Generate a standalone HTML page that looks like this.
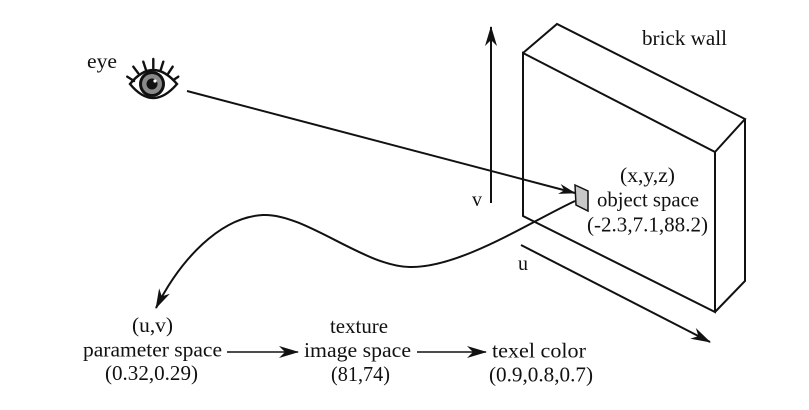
<!DOCTYPE html>
<html><head><meta charset="utf-8"><style>
html,body{margin:0;padding:0;background:#fff;}
svg{display:block;}
text{font-family:"Liberation Serif","Times New Roman",serif;font-size:21px;fill:#111;}
</style></head><body>
<svg width="809" height="410" viewBox="0 0 809 410" xmlns="http://www.w3.org/2000/svg">
<defs>
<marker id="ah" viewBox="0 0 20 12" refX="19" refY="6" markerWidth="20" markerHeight="12" markerUnits="userSpaceOnUse" orient="auto">
<path d="M0,0 L20,6 L0,12 L6,6 Z" fill="#111"/>
</marker>
<marker id="ahs" viewBox="0 0 20 12" refX="19" refY="6" markerWidth="17" markerHeight="11" markerUnits="userSpaceOnUse" orient="auto">
<path d="M0,0 L20,6 L0,12 L6,6 Z" fill="#111"/>
</marker>
</defs>

<!-- wall -->
<g fill="none" stroke="#111" stroke-width="2" stroke-linejoin="miter">
<path d="M523,53 L715,152 L715,312 L523,216 Z"/>
<path d="M523,53 L557,24 L745,119 L715,152"/>
<path d="M745,119 L745,281 L715,312"/>
</g>

<!-- v axis -->
<line x1="491" y1="203" x2="491" y2="27" stroke="#111" stroke-width="2" marker-end="url(#ah)"/>
<!-- u axis -->
<line x1="521" y1="245" x2="710" y2="342" stroke="#111" stroke-width="2" marker-end="url(#ah)"/>

<!-- eye line -->
<line x1="187" y1="91" x2="575" y2="193" stroke="#111" stroke-width="2" marker-end="url(#ahs)"/>

<!-- patch -->
<path d="M575,185 L588,191 L588,211 L576,205 Z" fill="#c8c8c8" stroke="#111" stroke-width="1.5"/>

<!-- curve -->
<path d="M575,201 C530,222 460,268 410,267 C365,267 305,213 263,215 C220,217 180,260 156,308" fill="none" stroke="#111" stroke-width="2" marker-end="url(#ah)"/>

<!-- bottom arrows -->
<line x1="227" y1="352" x2="298" y2="352" stroke="#111" stroke-width="1.6" marker-end="url(#ah)"/>
<line x1="417" y1="352" x2="486" y2="352" stroke="#111" stroke-width="1.6" marker-end="url(#ah)"/>

<!-- eye -->
<g stroke="#111" stroke-width="2.4" fill="none" stroke-linecap="round">
<path d="M130,84 Q153,56 177,84 Q153,112 130,84 Z" fill="#fff"/>
<line x1="127.3" y1="76.7" x2="134" y2="81"/>
<line x1="133.3" y1="66.7" x2="138.3" y2="73.3"/>
<line x1="143.3" y1="61.7" x2="146" y2="70"/>
<line x1="153.3" y1="59" x2="153.3" y2="68.3"/>
<line x1="163.3" y1="61.7" x2="160.7" y2="70"/>
<line x1="172.7" y1="66.7" x2="168.3" y2="73.3"/>
<line x1="178.3" y1="76.7" x2="173.3" y2="80"/>
</g>
<circle cx="152" cy="84" r="13" fill="#111"/>
<circle cx="152" cy="84" r="10" fill="#8a8a8a"/>
<circle cx="152" cy="84" r="5.5" fill="#111"/>
<circle cx="155" cy="81" r="1.6" fill="#fff"/>

<!-- labels -->
<text x="87" y="68" textLength="30" lengthAdjust="spacingAndGlyphs">eye</text>
<text x="642" y="45" textLength="85" lengthAdjust="spacingAndGlyphs">brick wall</text>
<text x="620" y="182" textLength="55" lengthAdjust="spacingAndGlyphs">(x,y,z)</text>
<text x="597" y="206.5" textLength="102" lengthAdjust="spacingAndGlyphs">object space</text>
<text x="587" y="231.5" textLength="121" lengthAdjust="spacingAndGlyphs">(-2.3,7.1,88.2)</text>
<text x="472" y="206" textLength="10" lengthAdjust="spacingAndGlyphs">v</text>
<text x="518" y="270" textLength="10" lengthAdjust="spacingAndGlyphs">u</text>

<text x="132" y="332" textLength="41" lengthAdjust="spacingAndGlyphs">(u,v)</text>
<text x="83" y="356.5" textLength="139" lengthAdjust="spacingAndGlyphs">parameter space</text>
<text x="105" y="380" textLength="93" lengthAdjust="spacingAndGlyphs">(0.32,0.29)</text>

<text x="330" y="333" textLength="58" lengthAdjust="spacingAndGlyphs">texture</text>
<text x="304" y="357" textLength="107" lengthAdjust="spacingAndGlyphs">image space</text>
<text x="331" y="381" textLength="59" lengthAdjust="spacingAndGlyphs">(81,74)</text>

<text x="492" y="357.5" textLength="94" lengthAdjust="spacingAndGlyphs">texel color</text>
<text x="489" y="381.5" textLength="104" lengthAdjust="spacingAndGlyphs">(0.9,0.8,0.7)</text>
</svg>
</body></html>
